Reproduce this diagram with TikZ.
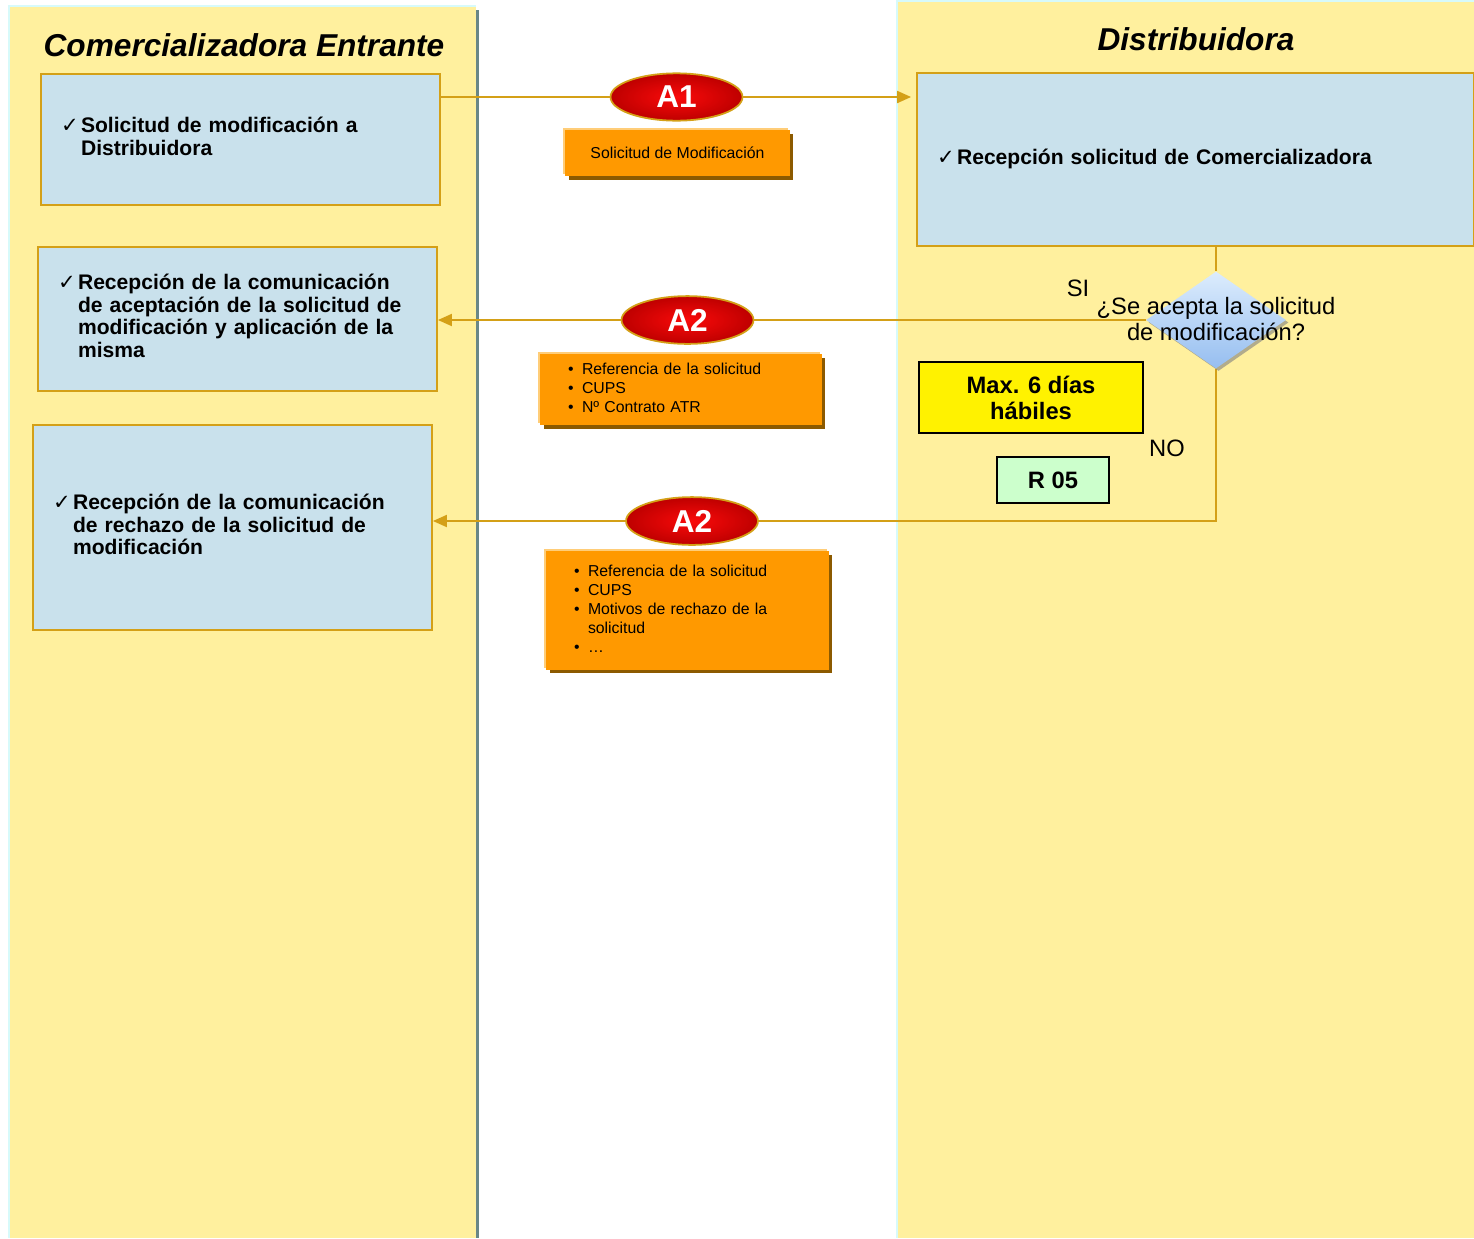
\documentclass[tikz,border=0pt]{standalone}
\usepackage{fontspec}
\setmainfont{Liberation Sans}
\newfontfamily\chkfont{DejaVu Sans}
\usepackage{xcolor}
\usetikzlibrary{shapes.geometric}
\usetikzlibrary{shadows}
\usetikzlibrary{arrows.meta}

\definecolor{lanefill}{RGB}{255,240,158}
\definecolor{laneedge}{RGB}{215,250,250}
\definecolor{laneshade}{RGB}{105,135,135}
\definecolor{boxblue}{RGB}{201,225,236}
\definecolor{goldline}{RGB}{212,160,23}
\definecolor{msgorange}{RGB}{255,153,0}
\definecolor{msgdark}{RGB}{140,90,0}
\definecolor{msglight}{RGB}{255,205,120}
\definecolor{tagred}{RGB}{250,10,10}
\definecolor{tagdark}{RGB}{190,0,0}
\definecolor{decitop}{RGB}{220,236,253}
\definecolor{decibot}{RGB}{150,190,240}
\definecolor{r05green}{RGB}{204,255,204}

\pgfdeclarelayer{lanes}
\pgfdeclarelayer{links}
\pgfsetlayers{lanes,links,main}

\newcommand{\tick}[1]{\makebox[0.4cm][l]{\chkfont\mdseries\fontsize{12}{13}\selectfont ✓}\begin{tabular}[t]{@{}l@{}}#1\end{tabular}}
\newcommand{\blist}[1]{\begin{tabular}{@{}p{0.28cm}@{}l@{}}#1\end{tabular}}

\begin{document}
\begin{tikzpicture}[x=0.02cm, y=-0.02cm,
  stepbox/.style={draw=goldline, line width=1.1pt, fill=boxblue, align=left, inner xsep=0.4cm, text width=7.18cm, font=\bfseries\fontsize{12}{13}\selectfont},
  msgtag/.style={ellipse, draw=goldline, line width=1pt, inner color=tagred, outer color=tagdark, text=white, font=\bfseries\fontsize{18}{20}\selectfont, minimum width=2.64cm, minimum height=0.94cm},
  msgbox/.style={fill=msgorange, align=left, font=\fontsize{9}{10.8}\selectfont, drop shadow={shadow xshift=-0.04cm, shadow yshift=0.04cm, fill=msglight, opacity=1}, drop shadow={shadow xshift=0.07cm, shadow yshift=-0.07cm, fill=msgdark, opacity=1}},
  link/.style={draw=goldline, line width=1.1pt},
  linkarrow/.style={link, -{Triangle[length=0.28cm, width=0.24cm]}},
  lanetitle/.style={font=\bfseries\itshape\fontsize{18}{20}\selectfont},
  plain/.style={font=\fontsize{13.5}{14.7}\selectfont}]
\useasboundingbox (0,0) rectangle (1474,1238);

% swimlanes
\begin{pgfonlayer}{lanes}
\fill[laneedge] (8,5) rectangle (476,1238);
\fill[lanefill] (10,7) rectangle (476,1238);
\fill[laneshade] (476,10) rectangle (479,1238);
\fill[laneedge] (896,0) rectangle (1474,1238);
\fill[lanefill] (898,2) rectangle (1474,1238);
\end{pgfonlayer}

\node[lanetitle] (comer) at (244,45) {Comercializadora Entrante};
\node[lanetitle] (distri) at (1196,39) {Distribuidora};

% Comercializadora
\node[stepbox, minimum height=2.62cm] (sol) at (240.5,139.5) {\tick{Solicitud de modificación a\\Distribuidora}};
\node[stepbox, minimum height=2.88cm] (acc) at (237.5,319) {\tick{Recepción de la comunicación\\de aceptación de la solicitud de\\modificación y aplicación de la\\misma}};
\node[stepbox, minimum height=4.1cm] (rej) at (232.5,527.5) {\tick{Recepción de la comunicación\\de rechazo de la solicitud de\\modificación}};

% Distribuidora
\node[stepbox, text width=10.34cm, minimum height=3.46cm] (recv) at (1195.5,159.5) {\tick{Recepción solicitud de Comercializadora}};
\node[diamond, shape aspect=1.44, minimum width=2.8cm, minimum height=1.94cm, inner sep=0pt, top color=decitop, bottom color=decibot, drop shadow={shadow xshift=0.05cm, shadow yshift=-0.05cm, fill=gray, opacity=0.6}] (dec) at (1216,320) {};
\node[plain, align=center] (qtext) at (1216,319) {¿Se acepta la solicitud\\de modificación?};
\node[plain] (si) at (1078,288) {SI};
\node[plain] (no) at (1167,448) {NO};
\node[draw, line width=0.8pt, fill=yellow, minimum width=4.48cm, minimum height=1.42cm, align=center, font=\bfseries\fontsize{13.5}{14.7}\selectfont] (plazo) at (1031,397.5) {Max. 6 días\\hábiles};
\node[draw, line width=0.8pt, fill=r05green, minimum width=2.24cm, minimum height=0.92cm, font=\bfseries\fontsize{13.5}{14.7}\selectfont] (r05) at (1053,480) {R 05};

% mensajes
\node[msgtag] (tag1) at (676.5,97) {A1};
\node[msgtag] (tag2) at (687.5,320) {A2};
\node[msgtag] (tag3) at (692,521) {A2};
\node[msgbox, minimum width=4.5cm, minimum height=0.92cm] (msg1) at (677.5,153) {Solicitud de Modificación};
\node[msgbox, inner xsep=0.56cm, text width=4.52cm, minimum height=1.42cm] (msg2) at (681,389.5) {\blist{\textbullet & Referencia de la solicitud\\ \textbullet & CUPS\\ \textbullet & Nº Contrato ATR}};
\node[msgbox, inner xsep=0.56cm, text width=4.54cm, minimum height=2.38cm] (msg3) at (687.5,610.5) {\blist{\textbullet & Referencia de la solicitud\\ \textbullet & CUPS\\ \textbullet & Motivos de rechazo de la\\ & solicitud\\ \textbullet & …}};

% flujo
\begin{pgfonlayer}{links}
\draw[linkarrow, shorten >=0.1cm] (sol.east |- tag1) -- (recv.west |- tag1);
\draw[link] (dec.north |- recv.south) -- (dec.north);
\draw[linkarrow] (dec.west) -- (acc.east |- tag2);
\draw[linkarrow] (dec.south) |- (rej.east |- tag3);
\end{pgfonlayer}
\end{tikzpicture}
\end{document}
